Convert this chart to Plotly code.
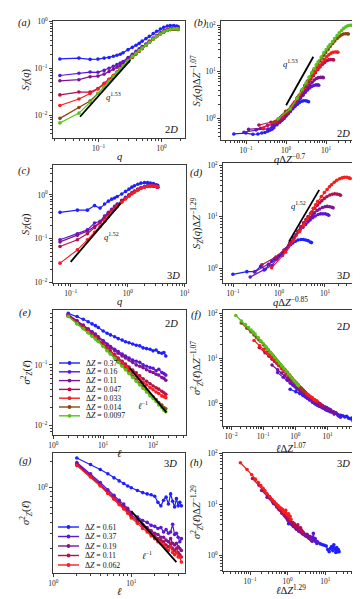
import math
import plotly.graph_objects as go

W, H = 360, 599
SERIF = 'Liberation Serif'

# ---------------------------------------------------------------- 2D data
dz_2d = [0.37, 0.16, 0.11, 0.047, 0.033, 0.014, 0.0097]
colors_2d = ['#1f1fff', '#5b16d6', '#7e1494', '#b5104e', '#f81d1d', '#8b4513', '#56c21a']

q_2d = [0.0245, 0.049, 0.0736, 0.098, 0.123, 0.147, 0.172, 0.196, 0.221, 0.245, 0.294, 0.344, 0.393,
        0.442, 0.491, 0.565, 0.638, 0.736, 0.834, 0.957, 1.08, 1.23, 1.37, 1.55, 1.72, 1.82]
S_2d_037 = [0.158, 0.165, 0.155, 0.157, 0.165, 0.17, 0.18, 0.19, 0.20, 0.215, 0.25, 0.28, 0.31,
            0.34, 0.38, 0.43, 0.48, 0.55, 0.62, 0.69, 0.75, 0.80, 0.82, 0.82, 0.80, 0.78]
S_2d_016 = [0.070, 0.078, 0.083, 0.082, 0.09, 0.10, 0.11, 0.12, 0.13, 0.14, 0.17, 0.20, 0.23,
            0.26, 0.29, 0.33, 0.38, 0.44, 0.50, 0.57, 0.63, 0.68, 0.71, 0.73, 0.73, 0.72]
S_2d_011 = [0.054, 0.057, 0.066, 0.068, 0.075, 0.085, 0.095, 0.105, 0.115, 0.13, 0.16, 0.19, 0.22,
            0.25, 0.28, 0.32, 0.37, 0.43, 0.49, 0.56, 0.62, 0.67, 0.70, 0.71, 0.71, 0.70]
S_2d_0047 = [0.027, 0.031, 0.031, 0.037, 0.048, 0.058, 0.07, 0.083, 0.096, 0.11, 0.14, 0.175, 0.205,
             0.235, 0.265, 0.31, 0.36, 0.42, 0.48, 0.545, 0.60, 0.65, 0.68, 0.69, 0.69, 0.68]
S_2d_0033 = [0.016, 0.022, 0.029, 0.036, 0.046, 0.057, 0.07, 0.082, 0.095, 0.11, 0.14, 0.172, 0.203,
             0.233, 0.263, 0.31, 0.36, 0.42, 0.48, 0.545, 0.60, 0.65, 0.68, 0.69, 0.69, 0.68]
S_2d_0014 = [0.0085, 0.0145, 0.020, 0.029, 0.040, 0.052, 0.065, 0.08, 0.094, 0.11, 0.14, 0.175, 0.205,
             0.235, 0.265, 0.31, 0.36, 0.42, 0.475, 0.54, 0.59, 0.64, 0.67, 0.68, 0.68, 0.67]
S_2d_00097 = [0.0068, 0.011, 0.0187, 0.029, 0.040, 0.053, 0.067, 0.082, 0.098, 0.113, 0.145, 0.18, 0.21,
              0.24, 0.27, 0.31, 0.36, 0.42, 0.48, 0.54, 0.60, 0.65, 0.68, 0.70, 0.70, 0.69]
S_2d = [S_2d_037, S_2d_016, S_2d_011, S_2d_0047, S_2d_0033, S_2d_0014, S_2d_00097]

l_2d = [2, 3, 4, 5, 6, 7, 8, 10, 12, 14, 17, 20, 24, 28, 33, 39, 46, 54, 63, 74, 87, 100, 115, 130, 150, 165, 180]
sig_2d_037 = [0.70, 0.62, 0.56, 0.51, 0.47, 0.44, 0.41, 0.36, 0.33, 0.31, 0.29, 0.27, 0.255, 0.24,
              0.23, 0.22, 0.21, 0.205, 0.19, 0.185, 0.18, 0.17, 0.175, 0.16, 0.155, 0.16, 0.14]
sig_2d_016 = [0.67, 0.53, 0.45, 0.39, 0.35, 0.32, 0.29, 0.25, 0.22, 0.20, 0.18, 0.165, 0.15, 0.14,
              0.13, 0.12, 0.115, 0.11, 0.10, 0.095, 0.09, 0.088, 0.08, 0.085, 0.075, 0.072, 0.068]
sig_2d_011 = [0.66, 0.52, 0.44, 0.38, 0.34, 0.31, 0.28, 0.24, 0.21, 0.19, 0.17, 0.155, 0.14, 0.13,
              0.12, 0.11, 0.10, 0.095, 0.09, 0.083, 0.078, 0.075, 0.07, 0.068, 0.062, 0.06, 0.056]
sig_2d_0047 = [0.65, 0.50, 0.42, 0.36, 0.32, 0.29, 0.26, 0.22, 0.19, 0.17, 0.148, 0.13, 0.115, 0.103,
               0.092, 0.082, 0.074, 0.066, 0.059, 0.054, 0.049, 0.045, 0.042, 0.04, 0.037, 0.035, 0.033]
sig_2d_0033 = [0.64, 0.49, 0.41, 0.35, 0.31, 0.28, 0.25, 0.21, 0.18, 0.16, 0.14, 0.122, 0.107, 0.095,
               0.084, 0.074, 0.066, 0.058, 0.052, 0.047, 0.042, 0.039, 0.036, 0.034, 0.031, 0.03, 0.029]
sig_2d_0014 = [0.63, 0.48, 0.40, 0.34, 0.30, 0.27, 0.245, 0.205, 0.175, 0.155, 0.132, 0.114, 0.098, 0.086,
               0.075, 0.065, 0.057, 0.05, 0.044, 0.038, 0.033, 0.03, 0.027, 0.024, 0.022, 0.02, 0.019]
sig_2d_00097 = [0.62, 0.47, 0.39, 0.335, 0.295, 0.265, 0.24, 0.20, 0.17, 0.15, 0.128, 0.11, 0.095, 0.083,
                0.072, 0.062, 0.054, 0.047, 0.041, 0.036, 0.031, 0.028, 0.025, 0.022, 0.020, 0.018, 0.017]
sig_2d = [sig_2d_037, sig_2d_016, sig_2d_011, sig_2d_0047, sig_2d_0033, sig_2d_0014, sig_2d_00097]

# ---------------------------------------------------------------- 3D data
dz_3d = [0.61, 0.37, 0.19, 0.11, 0.062]          # legend values
dz_3d_fit = [0.61, 0.22, 0.17, 0.11, 0.062]      # values that reproduce the collapse panels
colors_3d = ['#1f1fff', '#5b16d6', '#7e1494', '#b5104e', '#f81d1d']

q_3d = [0.065, 0.131, 0.196, 0.262, 0.327, 0.392, 0.458, 0.523, 0.589, 0.654, 0.785, 0.916,
        1.05, 1.18, 1.31, 1.50, 1.70, 1.96, 2.22, 2.49, 2.81, 3.14, 3.34]
S_3d_061 = [0.40, 0.45, 0.45, 0.57, 0.50, 0.62, 0.72, 0.80, 0.85, 0.92, 1.05, 1.2,
            1.35, 1.5, 1.62, 1.75, 1.85, 1.9, 1.9, 1.85, 1.8, 1.7, 1.65]
S_3d_037 = [0.095, 0.13, 0.16, 0.23, 0.25, 0.33, 0.40, 0.47, 0.55, 0.62, 0.75, 0.88,
            1.0, 1.12, 1.22, 1.35, 1.45, 1.55, 1.6, 1.6, 1.6, 1.55, 1.5]
S_3d_019 = [0.085, 0.12, 0.15, 0.19, 0.24, 0.31, 0.38, 0.45, 0.52, 0.6, 0.73, 0.86,
            0.98, 1.1, 1.2, 1.33, 1.43, 1.53, 1.58, 1.6, 1.58, 1.54, 1.5]
S_3d_011 = [0.067, 0.095, 0.13, 0.18, 0.23, 0.30, 0.37, 0.44, 0.51, 0.58, 0.71, 0.84,
            0.96, 1.08, 1.18, 1.31, 1.42, 1.52, 1.57, 1.6, 1.58, 1.55, 1.5]
S_3d_0062 = [0.028, 0.056, 0.095, 0.14, 0.19, 0.25, 0.32, 0.40, 0.47, 0.54, 0.68, 0.81,
             0.93, 1.05, 1.15, 1.28, 1.40, 1.50, 1.56, 1.6, 1.6, 1.56, 1.52]
S_3d = [S_3d_061, S_3d_037, S_3d_019, S_3d_011, S_3d_0062]

l_3d = [2, 3, 4, 5, 6, 7, 8, 9, 10, 12, 14, 16, 18, 20, 22, 24, 26, 28, 30, 32, 34, 36, 38, 40, 42, 44]
sig_3d_061 = [2.2, 1.85, 1.62, 1.45, 1.3, 1.2, 1.12, 1.05, 1.0, 0.93, 0.88, 0.85, 0.83,
              0.80, 0.68, 0.62, 0.72, 0.78, 0.65, 0.85, 0.70, 0.60, 0.75, 0.62, 0.68, 0.62]
sig_3d_037 = [1.95, 1.45, 1.15, 0.95, 0.82, 0.72, 0.65, 0.58, 0.52, 0.46, 0.42, 0.40, 0.37,
              0.36, 0.34, 0.35, 0.31, 0.33, 0.30, 0.31, 0.38, 0.29, 0.30, 0.27, 0.24, 0.26]
sig_3d_019 = [1.9, 1.4, 1.1, 0.9, 0.78, 0.68, 0.61, 0.55, 0.49, 0.43, 0.38, 0.35, 0.32,
              0.30, 0.29, 0.27, 0.27, 0.25, 0.24, 0.26, 0.23, 0.22, 0.23, 0.21, 0.20, 0.19]
sig_3d_011 = [1.85, 1.36, 1.07, 0.88, 0.76, 0.66, 0.59, 0.53, 0.47, 0.41, 0.36, 0.33, 0.30,
              0.28, 0.26, 0.25, 0.24, 0.22, 0.21, 0.23, 0.20, 0.19, 0.20, 0.18, 0.17, 0.16]
sig_3d_0062 = [1.8, 1.33, 1.05, 0.86, 0.74, 0.64, 0.57, 0.51, 0.45, 0.39, 0.34, 0.31, 0.28,
               0.26, 0.24, 0.23, 0.22, 0.20, 0.19, 0.21, 0.18, 0.17, 0.18, 0.16, 0.16, 0.14]
sig_3d = [sig_3d_061, sig_3d_037, sig_3d_019, sig_3d_011, sig_3d_0062]

# power-law guides
guide_a = ([0.051, 0.32], [0.0092, 0.15])
guide_b = ([1.0, 4.8], [1.9, 21.0])
guide_c = ([0.1, 0.75], [0.03, 0.64])
guide_d = ([1.66, 7.5], [3.3, 33.0])
guide_e = ([34, 185], [0.089, 0.0166])
guide_g = ([10, 38], [0.54, 0.14])


def px(x, y):
    return x / W, 1 - y / H


# panel boxes in pixels (left, right, top, bottom) and log ranges
boxes = {
    'a': (45, 177, 13, 130), 'b': (213, 350, 13, 132),
    'c': (45, 178, 157, 275), 'd': (215, 350, 155, 275),
    'e': (45, 178, 302, 427), 'f': (215, 350, 302, 418),
    'g': (45, 177, 445, 565), 'h': (215, 350, 445, 563),
}
ranges = {
    'a': ([-1.72, 0.37], [-2.49, 0.01]), 'b': ([-1.63, 1.8], [-0.47, 2.09]),
    'c': ([-1.31, 1.02], [-2.005, 0.68]), 'd': ([-1.22, 1.72], [-0.29, 2.04]),
    'e': ([-0.005, 2.66], [-2.15, -0.1]), 'f': ([-2.25, 1.95], [-0.51, 2.07]),
    'g': ([-0.005, 1.69], [-0.98, 0.4]), 'h': ([-1.72, 1.87], [-0.31, 2.005]),
}
SZ = '<i>S<sub>Z</sub></i>(<i>q</i>)'
SIG = '<i>σ</i><sup>2</sup><sub><i>Z</i></sub>(<i>ℓ</i>)'
xtitles = {
    'a': '<i>q</i>', 'b': '<i>q</i>Δ<i>Z</i><sup>−0.7</sup>',
    'c': '<i>q</i>', 'd': '<i>q</i>Δ<i>Z</i><sup>−0.85</sup>',
    'e': '<i>ℓ</i>', 'f': '<i>ℓ</i>Δ<i>Z</i><sup>1.07</sup>',
    'g': '<i>ℓ</i>', 'h': '<i>ℓ</i>Δ<i>Z</i><sup>1.29</sup>',
}
ytitles = {
    'a': SZ, 'b': SZ + 'Δ<i>Z</i><sup>−1.07</sup>',
    'c': SZ, 'd': SZ + 'Δ<i>Z</i><sup>−1.29</sup>',
    'e': SIG, 'f': SIG + 'Δ<i>Z</i><sup>−1.07</sup>',
    'g': SIG, 'h': SIG + 'Δ<i>Z</i><sup>−1.29</sup>',
}
order = ['a', 'b', 'c', 'd', 'e', 'f', 'g', 'h']
axid = {p: ('' if i == 0 else str(i + 1)) for i, p in enumerate(order)}

fig = go.Figure()


def add_series(panel, xs, ys, color):
    k = axid[panel]
    fig.add_trace(go.Scatter(
        x=xs, y=ys, mode='lines+markers',
        line=dict(color=color, width=1.2),
        marker=dict(color=color, size=3.6),
        xaxis='x' + k, yaxis='y' + k, showlegend=False
    ))


def add_guide(panel, guide):
    k = axid[panel]
    fig.add_trace(go.Scatter(
        x=guide[0], y=guide[1], mode='lines',
        line=dict(color='black', width=1.8),
        xaxis='x' + k, yaxis='y' + k, showlegend=False
    ))


# (a), (b)
for dz, S, c in zip(dz_2d, S_2d, colors_2d):
    add_series('a', q_2d, S, c)
for dz, S, c in zip(dz_2d, S_2d, colors_2d):
    add_series('b', [q * dz ** -0.7 for q in q_2d], [s * dz ** -1.07 for s in S], c)
add_guide('a', guide_a)
add_guide('b', guide_b)

# (c), (d)
for dz, S, c in zip(dz_3d_fit, S_3d, colors_3d):
    add_series('c', q_3d, S, c)
for dz, S, c in zip(dz_3d_fit, S_3d, colors_3d):
    add_series('d', [q * dz ** -0.85 for q in q_3d], [s * dz ** -1.29 for s in S], c)
add_guide('c', guide_c)
add_guide('d', guide_d)

# (e), (f)
for dz, s2, c in zip(dz_2d, sig_2d, colors_2d):
    add_series('e', l_2d, s2, c)
for dz, s2, c in zip(dz_2d, sig_2d, colors_2d):
    add_series('f', [l * dz ** 1.07 for l in l_2d], [s * dz ** -1.07 for s in s2], c)
add_guide('e', guide_e)

# (g), (h)
for dz, s2, c in zip(dz_3d_fit, sig_3d, colors_3d):
    add_series('g', l_3d, s2, c)
for dz, s2, c in zip(dz_3d_fit, sig_3d, colors_3d):
    add_series('h', [l * dz ** 1.29 for l in l_3d], [s * dz ** -1.29 for s in s2], c)
add_guide('g', guide_g)


def log_ticks(rng):
    lo, hi = rng
    major, labels, minor = [], [], []
    for k in range(math.floor(lo) - 1, math.ceil(hi) + 1):
        if lo - 1e-9 <= k <= hi + 1e-9:
            major.append(10.0 ** k)
            labels.append('10<sup>%s</sup>' % str(k).replace('-', '−'))
        for m in range(2, 10):
            v = m * 10.0 ** k
            if lo <= math.log10(v) <= hi:
                minor.append(v)
    return major, labels, minor


def axis(dom, rng, anchor):
    major, labels, minor = log_ticks(rng)
    return dict(
        type='log', domain=dom, range=rng, anchor=anchor,
        tickmode='array', tickvals=major, ticktext=labels,
        showline=True, linecolor='#3a3a3a', linewidth=1,
        mirror=True, ticks='outside', ticklen=3, tickwidth=0.8, tickcolor='#3a3a3a',
        tickfont=dict(family=SERIF, size=7.5, color='#222'),
        minor=dict(tickmode='array', tickvals=minor, ticks='outside', ticklen=1.6,
                   tickwidth=0.6, tickcolor='#3a3a3a', showgrid=False),
        showgrid=False, zeroline=False, automargin=False,
    )


layout = {}
for p in order:
    l, r, t, b = boxes[p]
    k = axid[p]
    layout['xaxis' + k] = axis([l / W, r / W], ranges[p][0], 'y' + k)
    layout['yaxis' + k] = axis([1 - b / H, 1 - t / H], ranges[p][1], 'x' + k)

ann = []


def text(x, y, s, size=10, anchor='center', angle=0):
    ax, ay = px(x, y)
    ann.append(dict(x=ax, y=ay, xref='paper', yref='paper', text=s, showarrow=False,
                    xanchor=anchor, yanchor='middle', textangle=angle,
                    font=dict(family=SERIF, size=size, color='#111')))


# axis titles
for p in order:
    l, r, t, b = boxes[p]
    dy = 21 if p == 'f' else 18
    text((l + r) / 2, b + dy, xtitles[p], 10.5)
    yx = 18 if p in 'aceg' else 189
    text(yx, (t + b) / 2, ytitles[p], 10.5, angle=-90)

# panel letters
for p, (x, y) in zip(order, [(16, 15), (192, 15), (16, 163), (188, 165),
                             (17, 305), (188, 307), (17, 453), (188, 455)]):
    text(x, y, '<i>(%s)</i>' % p, 10.5)

# dimension labels
for s, (x, y) in [('2<i>D</i>', (163, 122)), ('2<i>D</i>', (335, 125)),
                  ('3<i>D</i>', (165, 267)), ('3<i>D</i>', (335, 267)),
                  ('2<i>D</i>', (163, 315)), ('2<i>D</i>', (335, 318)),
                  ('3<i>D</i>', (162, 455)), ('3<i>D</i>', (335, 455))]:
    text(x, y, s, 10.5)

# power-law labels
text(105, 89, '<i>q</i><sup>1.53</sup>', 8.5)
text(282, 56, '<i>q</i><sup>1.53</sup>', 8.5)
text(103, 228, '<i>q</i><sup>1.52</sup>', 8.5)
text(290, 197, '<i>q</i><sup>1.52</sup>', 8.5)
text(135, 397, '<i>ℓ</i><sup>−1</sup>', 8.5)
text(139, 547, '<i>ℓ</i><sup>−1</sup>', 8.5)

# hand-drawn legends (plotly legend rows are too tall for this spacing)
shapes = []


def legend(labels, colors, x0, y0, dy):
    for i, (lab, c) in enumerate(zip(labels, colors)):
        y = y0 + i * dy
        xa, ya = px(x0, y)
        xb, _ = px(x0 + 21, y)
        shapes.append(dict(type='line', xref='paper', yref='paper', x0=xa, x1=xb, y0=ya, y1=ya,
                           line=dict(color=c, width=1.4)))
        cx, cy = px(x0 + 10.5, y)
        shapes.append(dict(type='circle', xref='paper', yref='paper',
                           x0=cx - 1.9 / W, x1=cx + 1.9 / W, y0=cy - 1.9 / H, y1=cy + 1.9 / H,
                           fillcolor=c, line=dict(width=0)))
        text(x0 + 25, y, 'Δ<i>Z</i> = %s' % lab, 7.8, anchor='left')


legend([str(d) for d in dz_2d], colors_2d, 51, 355, 8.8)
legend([str(d) for d in dz_3d], colors_3d, 50, 519, 9.5)

fig.update_layout(
    width=W, height=H, margin=dict(l=0, r=0, t=0, b=0),
    paper_bgcolor='white', plot_bgcolor='white', showlegend=False,
    annotations=ann, shapes=shapes, **layout
)

fig.write_html("out.html")
